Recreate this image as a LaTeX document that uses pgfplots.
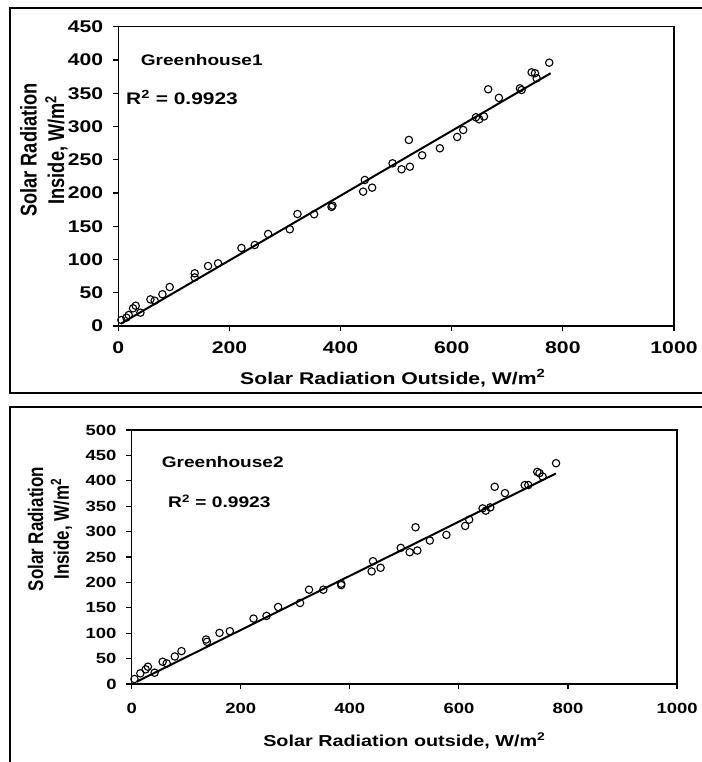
\documentclass[border=0pt]{standalone}
\usepackage{fontspec}
\setmainfont{Liberation Sans}[FakeStretch=1.25]
\newfontfamily\plainfont{Liberation Sans}
\usepackage{graphicx}
\usepackage{pgfplots}
\usepackage{pgfplotstable}
\pgfplotsset{compat=1.18}

\pgfplotstableread{
x y
5.5 9
14.5 12.5
18.7 16.5
26.5 26.6
31.3 30.5
39.8 20
57.8 40
65.5 38
79.4 47.7
92.5 58.6
137.5 79.2
137.5 73
161.5 90.2
179.5 94.2
221.6 117.3
245.6 121.8
269.6 138.3
308.6 145.4
322.4 168.4
352.4 168
383.7 179
385.4 181
440.6 202
443.6 219.5
456.8 208
493.5 244.6
509.7 235.6
524.7 239.5
522.9 279.7
546.8 256.6
578.7 267.2
609.8 284.2
620.6 294.7
643.5 313.8
649.5 310.8
658 315
665.6 355.9
684.9 343
722.7 357.3
725.7 354.8
743.8 381.4
749.8 380
752.8 372.4
775.5 395.9
}\ghone

\pgfplotstableread{
x y
5.1 9.8
15.8 21
25.6 28.8
29.7 34
42 22.2
56.8 43.8
64.2 40.5
79 54.2
91.3 64.7
136.4 87.6
138 83
161 100.7
179.9 104
223.4 128.8
247.2 134
268.5 151.6
308.7 159.5
325.2 185.6
351.4 185.6
384.2 197.4
384.2 194.7
440 221.6
442.5 241.8
456.4 228.8
493.4 268
509.8 259.4
523.8 262.7
520.5 308.5
546.7 282.4
577.1 293.5
611.5 311.1
618.9 323.5
643.5 345.7
649.3 341.2
657.5 347.6
665.7 388.2
684.5 375.8
720.7 391.6
727.3 391.6
743.7 417.6
747.8 415.1
753.5 408.4
778.2 434.6
}\ghtwo

\pgfplotstableread{
x y
5 3.7
778 380
}\fitone

\pgfplotstableread{
x y
9.2 4.5
778 414.5
}\fittwo

\pgfplotsset{
  ghstyle/.style={
    scale only axis,
    xmin=0, xmax=1000,
    xtick={0,200,400,600,800,1000},
    xticklabels={0,200,400,600,800,1000},
    tick align=outside,
    xtick pos=left, ytick pos=left,
    major tick length=5.5bp,
    every tick/.style={black, line width=1.2bp},
    axis line style={line width=1.3bp, black},
    clip=false,
  },
  ptstyle/.style={only marks, mark=o, mark size=3.7bp, black, mark options={line width=1.1bp}},
  fitstyle/.style={no marks, black, line width=2bp},
}

\begin{document}
\begin{tikzpicture}[x=1bp,y=1bp]
\useasboundingbox (0,0) rectangle (702,762);
% panel frames
\draw[line width=1.8bp] (720,369.3) -- (10,369.3) -- (10,753.7) -- (720,753.7);
\draw[line width=1.8bp] (720,355.3) -- (10,355.3) -- (10,-20);

% ---------- Greenhouse 1 ----------
\begin{axis}[ghstyle,
  at={(118.3bp,436bp)}, anchor=south west,
  width=555.7bp, height=299.3bp,
  ymin=0, ymax=450,
  ytick={0,50,100,150,200,250,300,350,400,450},
  yticklabels={0,50,100,150,200,250,300,350,400,450},
  ticklabel style={font=\bfseries\fontsize{17}{18}\selectfont},
  xticklabel style={anchor=north, inner sep=0pt, yshift=-10bp},
  yticklabel style={anchor=east, inner sep=0pt, xshift=-9.5bp},
  every axis x label/.style={at={(rel axis cs:0.494,-0.194)}, anchor=base},
  every axis y label/.style={at={(rel axis cs:-0.132,0.588)}, anchor=center},
  xlabel={\bfseries\fontsize{17}{18}\selectfont Solar Radiation Outside, W/m\textsuperscript{2}},
  ylabel={\scalebox{1.25}[1]{\rotatebox{90}{\plainfont\bfseries\fontsize{18.3}{22}\selectfont\begin{tabular}{@{}c@{}}Solar Radiation\\Inside, W/m\textsuperscript{2}\end{tabular}}}},
]
\addplot[ptstyle] table {\ghone};
\addplot[fitstyle] table {\fitone};
\node[anchor=west, inner sep=0pt, font=\bfseries\fontsize{15.3}{17}\selectfont] at (axis cs:40.3,400) {Greenhouse1};
\node[anchor=west, inner sep=0pt, font=\bfseries\fontsize{16.8}{18}\selectfont] at (axis cs:13.9,344) {R\textsuperscript{2} = 0.9923};
\end{axis}

% ---------- Greenhouse 2 ----------
\begin{axis}[ghstyle,
  at={(131.7bp,78bp)}, anchor=south west,
  width=545.3bp, height=254bp,
  ymin=0, ymax=500,
  ytick={0,50,100,150,200,250,300,350,400,450,500},
  yticklabels={0,50,100,150,200,250,300,350,400,450,500},
  ticklabel style={font=\bfseries\fontsize{14.8}{16}\selectfont},
  xticklabel style={anchor=north, inner sep=0pt, yshift=-13.5bp},
  yticklabel style={anchor=east, inner sep=0pt, xshift=-9.5bp},
  every axis x label/.style={at={(rel axis cs:0.5,-0.248)}, anchor=base},
  every axis y label/.style={at={(rel axis cs:-0.148,0.610)}, anchor=center},
  xlabel={\bfseries\fontsize{15.9}{17}\selectfont Solar Radiation outside, W/m\textsuperscript{2}},
  ylabel={\scalebox{1.25}[1]{\rotatebox{90}{\plainfont\bfseries\fontsize{17}{20.4}\selectfont\begin{tabular}{@{}c@{}}Solar Radiation\\Inside, W/m\textsuperscript{2}\end{tabular}}}},
]
\addplot[ptstyle] table {\ghtwo};
\addplot[fitstyle] table {\fittwo};
\node[anchor=west, inner sep=0pt, font=\bfseries\fontsize{15.3}{17}\selectfont] at (axis cs:55,437.6) {Greenhouse2};
\node[anchor=west, inner sep=0pt, font=\bfseries\fontsize{15.4}{17}\selectfont] at (axis cs:66.6,359) {R\textsuperscript{2} = 0.9923};
\end{axis}
\end{tikzpicture}
\end{document}
